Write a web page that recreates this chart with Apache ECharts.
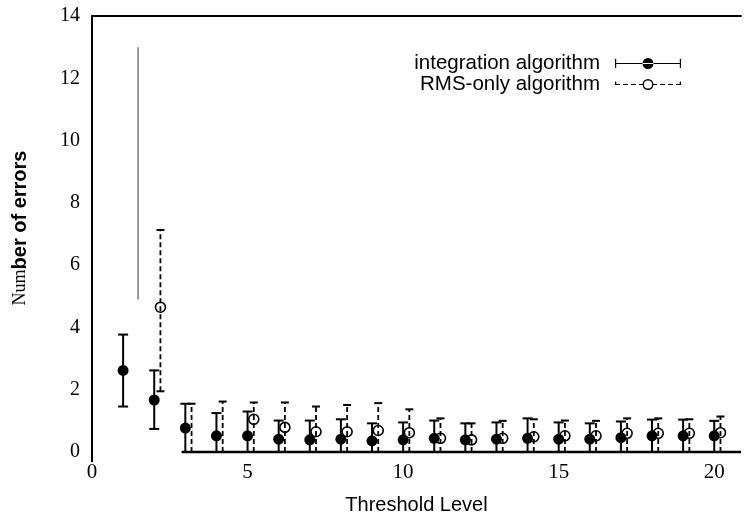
<!DOCTYPE html>
<html>
<head>
<meta charset="utf-8">
<script src="https://cdn.jsdelivr.net/npm/echarts@6/dist/echarts.min.js"></script>
<style>
  html, body { margin: 0; padding: 0; background: #fff; }
  #chart { width: 744px; height: 520px; }
</style>
</head>
<body>
<div id="chart"></div>
<script>
// ---- data ----
const thresholds = [1, 2, 3, 4, 5, 6, 7, 8, 9, 10, 11, 12, 13, 14, 15, 16, 17, 18, 19, 20];
const intMean = [2.62, 1.67, 0.77, 0.52, 0.52, 0.41, 0.39, 0.41, 0.36, 0.39, 0.44, 0.39, 0.41, 0.44, 0.41, 0.41, 0.46, 0.52, 0.52, 0.52];
const intLow  = [1.46, 0.74, 0, 0, 0, 0, 0, 0, 0, 0, 0, 0, 0, 0, 0, 0, 0, 0, 0, 0];
const intHigh = [3.77, 2.62, 1.55, 1.25, 1.30, 1.01, 1.01, 1.05, 0.92, 0.95, 1.01, 0.92, 0.95, 1.08, 0.95, 0.92, 0.98, 1.04, 1.04, 1.00];

const rmsX    = [2.2, 3.2, 4.2, 5.2, 6.2, 7.2, 8.2, 9.2, 10.2, 11.2, 12.2, 13.2, 14.2, 15.2, 16.2, 17.2, 18.2, 19.2, 20.2];
const rmsMean = [4.65, null, null, 1.05, 0.79, 0.65, 0.65, 0.69, 0.62, 0.44, 0.39, 0.44, 0.49, 0.52, 0.52, 0.60, 0.60, 0.60, 0.62];
const rmsLow  = [1.95, 0, 0, 0, 0, 0, 0, 0, 0, 0, 0, 0, 0, 0, 0, 0, 0, 0, 0];
const rmsHigh = [7.13, 1.55, 1.62, 1.59, 1.59, 1.46, 1.51, 1.57, 1.37, 1.08, 0.92, 1.00, 1.05, 1.01, 1.00, 1.08, 1.08, 1.05, 1.14];

// stray scanned line and axis pieces (data units)
const strayX = [1.48, 1.48];
const strayY = [4.9, 13.0];
const baseX = [2.88, 20.86];
const baseY = [0, 0];
const axisExtX = [0, 0];
const axisExtY = [0, -0.33];

const xTicks = [0, 5, 10, 15, 20];
const yTicks = [0, 2, 4, 6, 8, 10, 12, 14];

const X_MAX = 20.86;

function zip(a, b) { return a.map((v, i) => [v, b[i]]); }

function errRender(dashed, capHalf) {
  return function (params, api) {
    const x = api.value(0), lo = api.value(1), hi = api.value(2);
    const pLo = api.coord([x, lo]);
    const pHi = api.coord([x, hi]);
    const st = { stroke: '#000', lineWidth: dashed ? 1.8 : 2, lineDash: dashed ? [5, 3] : null };
    const children = [
      { type: 'line', shape: { x1: pLo[0], y1: pLo[1], x2: pHi[0], y2: pHi[1] }, style: st },
      { type: 'line', shape: { x1: pHi[0] - capHalf, y1: pHi[1], x2: pHi[0] + capHalf, y2: pHi[1] }, style: { stroke: '#000', lineWidth: 2 } }
    ];
    if (lo > 0) {
      children.push({ type: 'line', shape: { x1: pLo[0] - capHalf, y1: pLo[1], x2: pLo[0] + capHalf, y2: pLo[1] }, style: { stroke: '#000', lineWidth: 2 } });
    }
    return { type: 'group', children: children };
  };
}

const intIcon = 'path://M0,1H1.2V10H0Z M64.8,1H66V10H64.8Z M0,5H66V6H0Z M27.5,5.5A5.5,5.5 0 1 0 38.5,5.5A5.5,5.5 0 1 0 27.5,5.5Z';
const rmsIcon = 'path://M0,2.5H1.3V6.1H0Z M64.7,2.5H66V6.1H64.7Z ' +
  'M0,4.9H5V6.1H0Z M8,4.9H13V6.1H8Z M16,4.9H21V6.1H16Z M24,4.9H27.5V6.1H24Z ' +
  'M38.5,4.9H42V6.1H38.5Z M45,4.9H50V6.1H45Z M53,4.9H58V6.1H53Z M61,4.9H66V6.1H61Z ' +
  'M27.5,5.5A5.5,5.5 0 1 1 38.5,5.5A5.5,5.5 0 1 1 27.5,5.5Z M28.9,5.5A4.1,4.1 0 1 0 37.1,5.5A4.1,4.1 0 1 0 28.9,5.5Z';

const chart = echarts.init(document.getElementById('chart'), null, { renderer: 'canvas' });

chart.setOption({
  animation: false,
  backgroundColor: '#fff',
  grid: { left: 92, right: 0, top: 16, bottom: 68, containLabel: false },
  legend: {
    orient: 'vertical',
    right: 58,
    top: 48,
    align: 'right',
    itemWidth: 66,
    itemHeight: 11,
    itemGap: 0,
    selectedMode: false,
    textStyle: { fontFamily: 'Liberation Sans', fontSize: 20.5, color: '#000', lineHeight: 19, padding: [0, 10, 0, 0] },
    data: [
      { name: 'integration algorithm', icon: intIcon, itemStyle: { color: '#000', borderWidth: 0 } },
      { name: 'RMS-only algorithm', icon: rmsIcon, itemStyle: { color: '#000', borderWidth: 0 } }
    ]
  },
  xAxis: [
    {
      type: 'value', min: 0, max: X_MAX, interval: 5,
      axisLine: { show: false },
      axisTick: { show: false },
      splitLine: { show: false },
      axisLabel: {
        margin: 10, fontFamily: 'Liberation Serif', fontSize: 21, color: '#000',
        formatter: function (v) { return xTicks.indexOf(v) >= 0 ? String(v) : ''; }
      },
      name: 'Threshold Level', nameLocation: 'middle', nameGap: 43,
      nameTextStyle: { fontFamily: 'Liberation Sans', fontSize: 20, color: '#000' }
    },
    {
      type: 'value', position: 'top', min: 0, max: X_MAX,
      axisLine: { show: true, lineStyle: { color: '#000', width: 2 } },
      axisTick: { show: false }, axisLabel: { show: false }, splitLine: { show: false }
    }
  ],
  yAxis: {
    type: 'value', min: 0, max: 14, interval: 2,
    axisLine: { show: true, lineStyle: { color: '#000', width: 2 } },
    axisTick: { show: false },
    splitLine: { show: false },
    axisLabel: {
      margin: 12, fontFamily: 'Liberation Serif', fontSize: 20, color: '#000',
      formatter: function (v) { return yTicks.indexOf(v) >= 0 ? String(v) : ''; }
    },
    name: '{a|Num}{b|ber of errors}', nameLocation: 'middle', nameGap: 62,
    nameTextStyle: {
      color: '#000',
      padding: [0, 0, 0, 12],
      rich: {
        a: { fontFamily: 'Liberation Serif', fontSize: 18, color: '#000' },
        b: { fontFamily: 'Liberation Sans', fontSize: 20, fontWeight: 'bold', color: '#000' }
      }
    }
  },
  series: [
    {
      name: 'intErr', type: 'custom', z: 2,
      renderItem: errRender(false, 5),
      encode: { x: 0, y: [1, 2] },
      data: thresholds.map((t, i) => [t, intLow[i], intHigh[i]])
    },
    {
      name: 'rmsErr', type: 'custom', z: 2,
      renderItem: errRender(true, 4),
      encode: { x: 0, y: [1, 2] },
      data: rmsX.map((t, i) => [t, rmsLow[i], rmsHigh[i]])
    },
    {
      name: 'integration algorithm', type: 'scatter', z: 4,
      symbol: 'circle', symbolSize: 11,
      itemStyle: { color: '#000', opacity: 1 },
      data: zip(thresholds, intMean)
    },
    {
      name: 'RMS-only algorithm', type: 'scatter', z: 5,
      symbol: 'circle', symbolSize: 10,
      itemStyle: { color: 'rgba(255,255,255,0)', borderColor: '#000', borderWidth: 1.6, opacity: 1 },
      data: zip(rmsX, rmsMean).filter(d => d[1] !== null)
    },
    {
      name: 'stray', type: 'line', z: 1, clip: false, symbol: 'none',
      lineStyle: { color: '#777', width: 1.5 },
      data: zip(strayX, strayY)
    },
    {
      name: 'baseline', type: 'line', z: 3, clip: false, symbol: 'none',
      lineStyle: { color: '#000', width: 2.5 },
      data: zip(baseX, baseY)
    },
    {
      name: 'axisExt', type: 'line', z: 3, clip: false, symbol: 'none',
      lineStyle: { color: '#000', width: 2 },
      data: zip(axisExtX, axisExtY)
    }
  ]
});
</script>
</body>
</html>
